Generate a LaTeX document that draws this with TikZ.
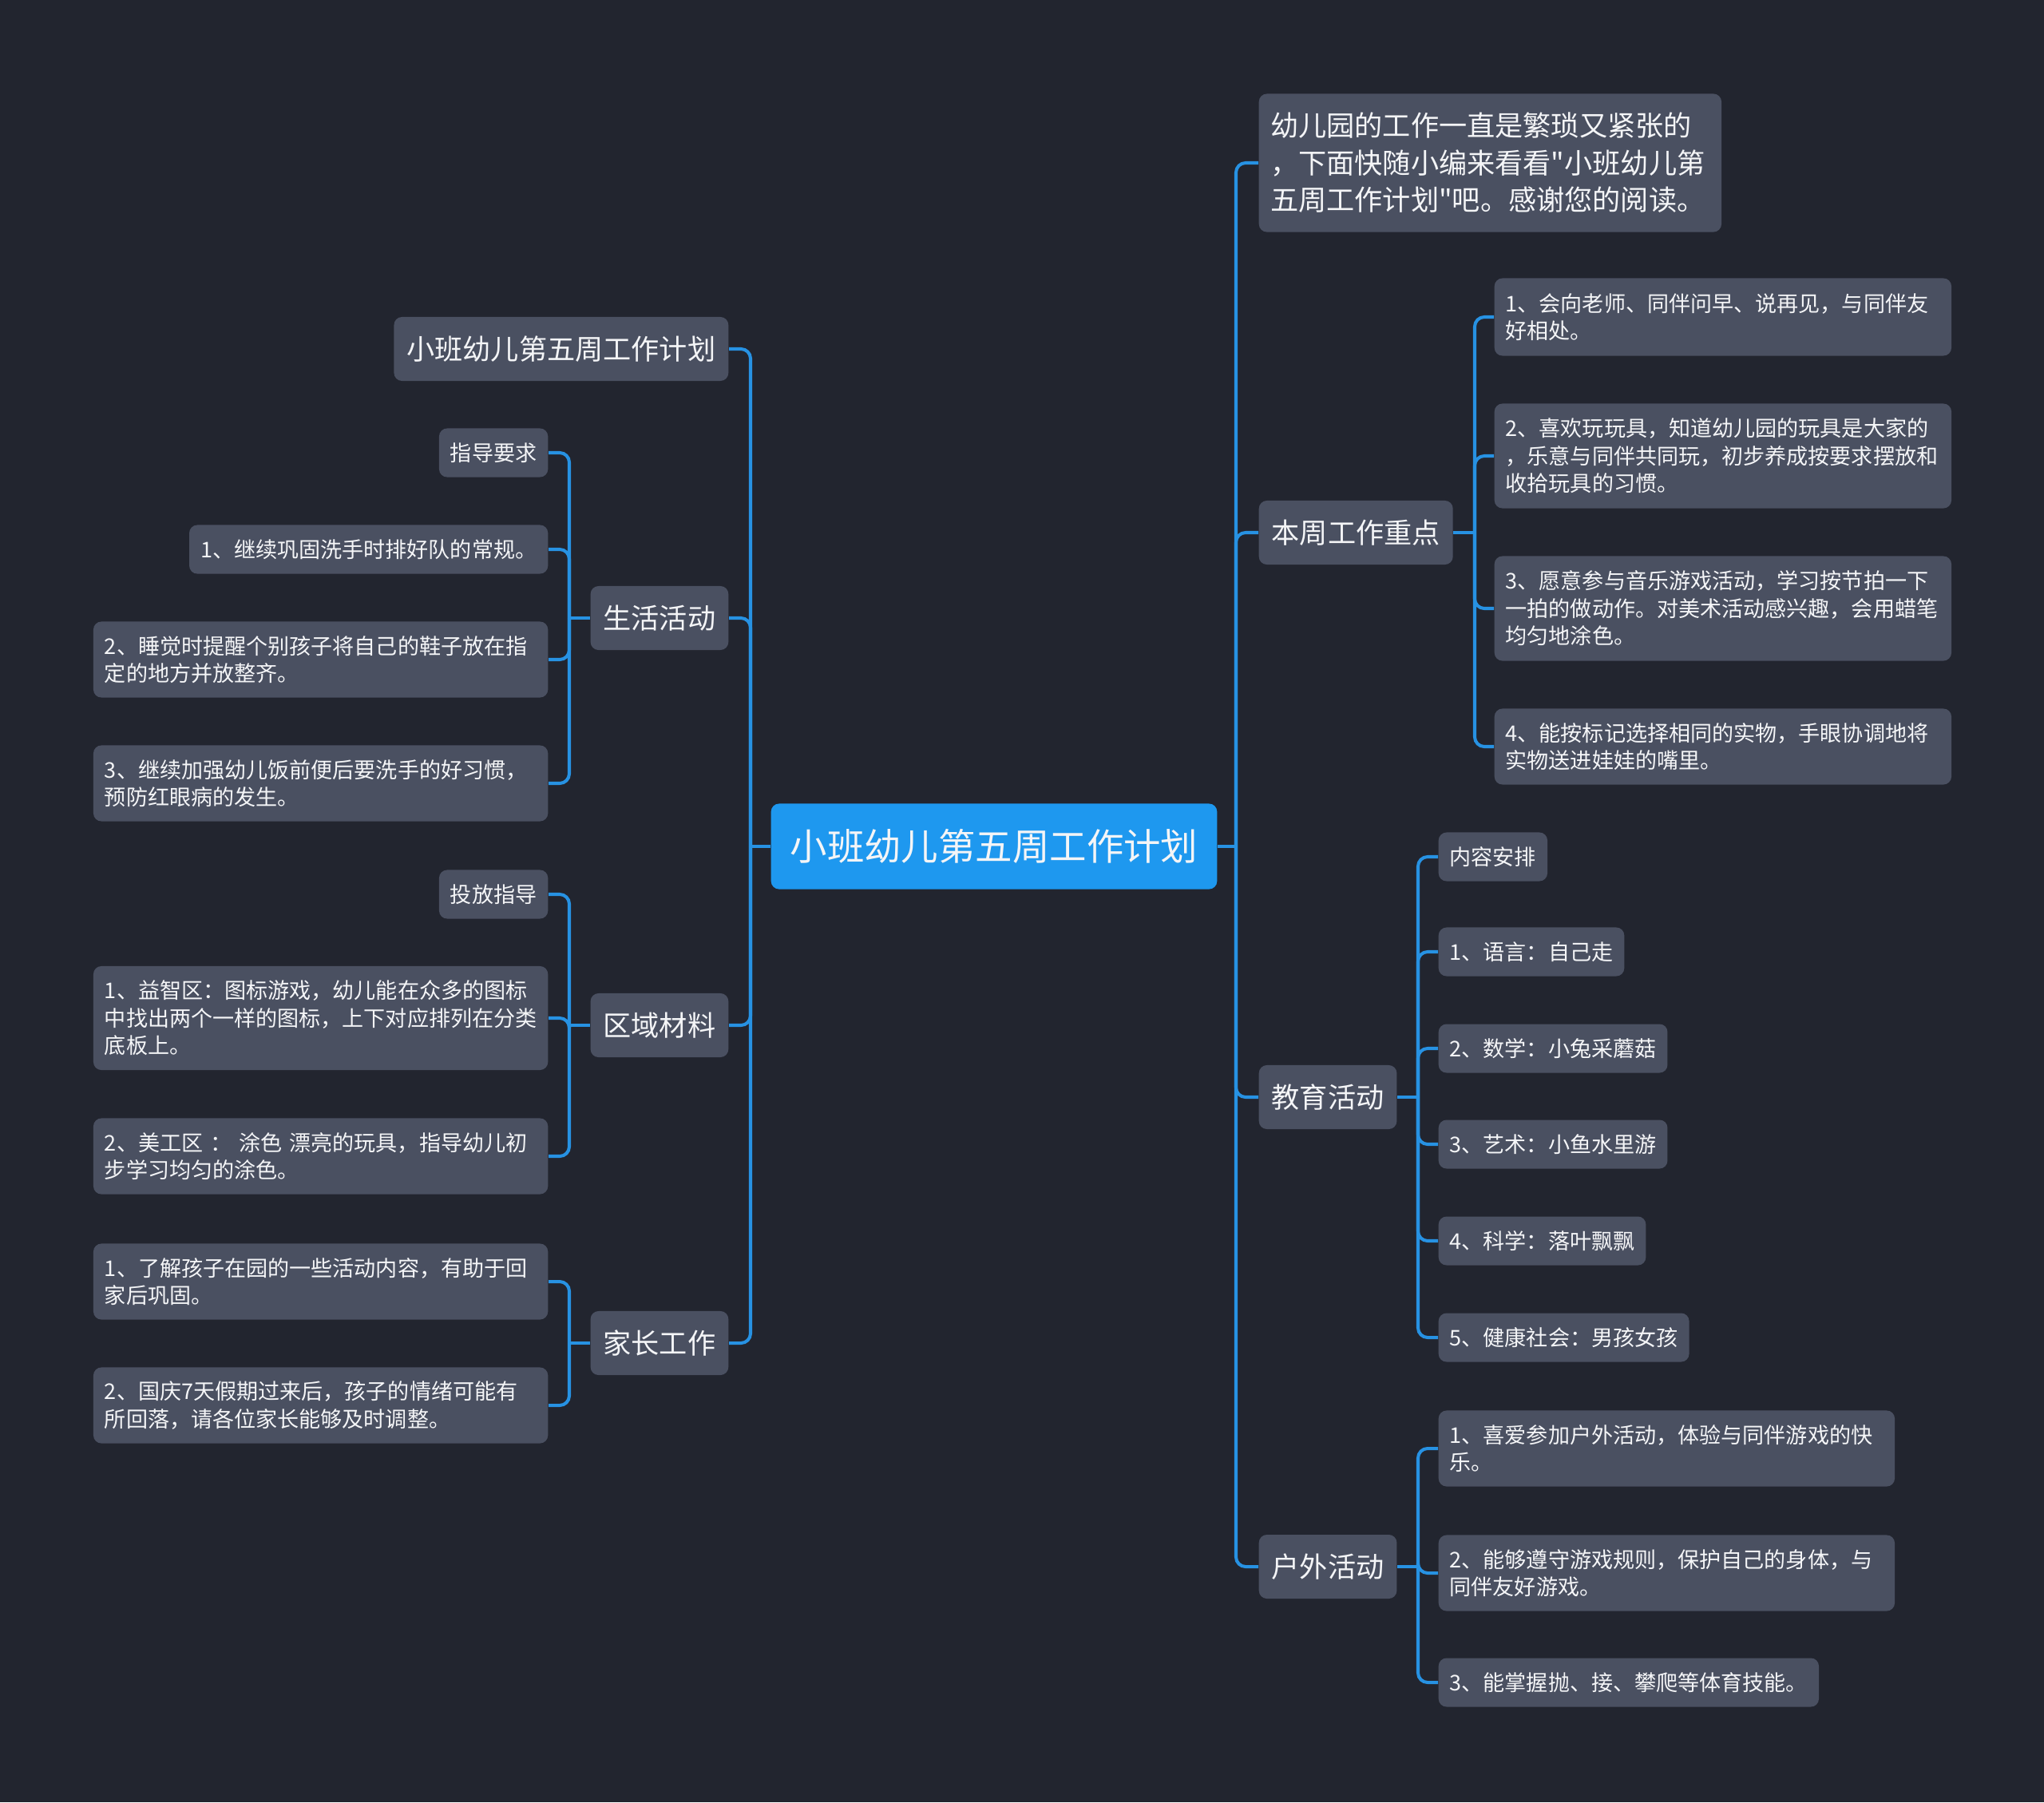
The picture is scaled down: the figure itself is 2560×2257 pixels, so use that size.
\documentclass[tikz,border=0pt]{standalone}
\usepackage{fontspec}
\setmainfont{Noto Sans CJK SC}[Ligatures=TeXOff]
\definecolor{bgc}{HTML}{22252F}
\definecolor{boxc}{HTML}{4A5061}
\definecolor{rootc}{HTML}{1E98EF}
\definecolor{linec}{HTML}{2792E3}
\definecolor{txtc}{HTML}{F4F5F7}
\tikzset{
  base/.style={rounded corners=0.1cm, fill=boxc, text=txtc, align=left},
  rootbox/.style={base, fill=rootc, font=\fontsize{13.2pt}{16pt}\selectfont, inner xsep=0.24cm, minimum height=1.07cm},
  lvone/.style={base, font=\fontsize{10pt}{13.2pt}\selectfont, inner xsep=0.16cm, minimum height=0.8cm},
  lvtwo/.style={base, font=\fontsize{7.7pt}{9.8pt}\selectfont, inner xsep=0.14cm, minimum height=0.61cm},
  conn/.style={draw=linec, line width=1.15pt, rounded corners=0.12cm},
}
\begin{document}
\begin{tikzpicture}[x=0.01cm,y=-0.01cm]
\fill[bgc] (0,0) rectangle (2560,2257);
\useasboundingbox (0,0) rectangle (2560,2257);

% root
\node[rootbox, anchor=center] (root) at (1245,1060) {小班幼儿第五周工作计划};
\coordinate (sL) at (940,1060);
\coordinate (sR) at (1548,1060);

% left level 1
\node[lvone, anchor=east] (l0) at (913,437) {小班幼儿第五周工作计划};
\node[lvone, anchor=east] (l1) at (913,774) {生活活动};
\node[lvone, anchor=east] (l2) at (913,1284) {区域材料};
\node[lvone, anchor=east] (l3) at (913,1682) {家长工作};

% right level 1
\node[lvone, anchor=west, text width=5.5cm, inner xsep=0.145cm, minimum height=1.73cm] (r0) at (1576,204) {幼儿园的工作一直是繁琐又紧张的\\，下面快随小编来看看"小班幼儿第\\五周工作计划"吧。感谢您的阅读。};
\node[lvone, anchor=west] (r1) at (1576,667) {本周工作重点};
\node[lvone, anchor=west] (r2) at (1576,1374) {教育活动};
\node[lvone, anchor=west] (r3) at (1576,1962) {户外活动};

% 生活活动 children
\coordinate (s1) at (713,774);
\node[lvtwo, anchor=east] (a1) at (687,567) {指导要求};
\node[lvtwo, anchor=east] (a2) at (687,688) {1、继续巩固洗手时排好队的常规。};
\node[lvtwo, anchor=east, text width=5.41cm, minimum height=0.95cm] (a3) at (687,826) {2、睡觉时提醒个别孩子将自己的鞋子放在指\\定的地方并放整齐。};
\node[lvtwo, anchor=east, text width=5.41cm, minimum height=0.95cm] (a4) at (687,981) {3、继续加强幼儿饭前便后要洗手的好习惯，\\预防红眼病的发生。};

% 区域材料 children
\coordinate (s2) at (713,1284);
\node[lvtwo, anchor=east] (b1) at (687,1120) {投放指导};
\node[lvtwo, anchor=east, text width=5.41cm, minimum height=1.3cm] (b2) at (687,1275) {1、益智区：图标游戏，幼儿能在众多的图标\\中找出两个一样的图标，上下对应排列在分类\\底板上。};
\node[lvtwo, anchor=east, text width=5.41cm, minimum height=0.95cm] (b3) at (687,1448) {2、美工区 ： 涂色 漂亮的玩具，指导幼儿初\\步学习均匀的涂色。};

% 家长工作 children
\coordinate (s3) at (713,1682);
\node[lvtwo, anchor=east, text width=5.41cm, minimum height=0.95cm] (c1) at (687,1605) {1、了解孩子在园的一些活动内容，有助于回\\家后巩固。};
\node[lvtwo, anchor=east, text width=5.41cm, minimum height=0.95cm] (c2) at (687,1760) {2、国庆7天假期过来后，孩子的情绪可能有\\所回落，请各位家长能够及时调整。};

% 本周工作重点 children
\coordinate (t1) at (1847,667);
\node[lvtwo, anchor=west, text width=5.44cm, minimum height=0.97cm] (d1) at (1871,397) {1、会向老师、同伴问早、说再见，与同伴友\\好相处。};
\node[lvtwo, anchor=west, text width=5.44cm, minimum height=1.31cm] (d2) at (1871,571) {2、喜欢玩玩具，知道幼儿园的玩具是大家的\\，乐意与同伴共同玩，初步养成按要求摆放和\\收拾玩具的习惯。};
\node[lvtwo, anchor=west, text width=5.44cm, minimum height=1.31cm] (d3) at (1871,762) {3、愿意参与音乐游戏活动，学习按节拍一下\\一拍的做动作。对美术活动感兴趣，会用蜡笔\\均匀地涂色。};
\node[lvtwo, anchor=west, text width=5.44cm, minimum height=0.95cm] (d4) at (1871,935) {4、能按标记选择相同的实物，手眼协调地将\\实物送进娃娃的嘴里。};

% 教育活动 children
\coordinate (t2) at (1776,1374);
\node[lvtwo, anchor=west] (e1) at (1801,1073) {内容安排};
\node[lvtwo, anchor=west] (e2) at (1801,1192) {1、语言：自己走};
\node[lvtwo, anchor=west] (e3) at (1801,1313) {2、数学：小兔采蘑菇};
\node[lvtwo, anchor=west] (e4) at (1801,1433) {3、艺术：小鱼水里游};
\node[lvtwo, anchor=west] (e5) at (1801,1554) {4、科学：落叶飘飘};
\node[lvtwo, anchor=west] (e6) at (1801,1675) {5、健康社会：男孩女孩};

% 户外活动 children
\coordinate (t3) at (1776,1962);
\node[lvtwo, anchor=west, text width=5.43cm, minimum height=0.95cm] (f1) at (1801,1814) {1、喜爱参加户外活动，体验与同伴游戏的快\\乐。};
\node[lvtwo, anchor=west, text width=5.43cm, minimum height=0.95cm] (f2) at (1801,1970) {2、能够遵守游戏规则，保护自己的身体，与\\同伴友好游戏。};
\node[lvtwo, anchor=west] (f3) at (1801,2107) {3、能掌握抛、接、攀爬等体育技能。};

% connectors: root
\draw[conn] (root.west) -- (sL);
\draw[conn] (root.east) -- (sR);
\foreach \n in {l0,l1,l2,l3} \draw[conn] (sL) |- (\n.east);
\foreach \n in {r0,r1,r2,r3} \draw[conn] (sR) |- (\n.west);

% left subtrees
\draw[conn] (l1.west) -- (s1);
\foreach \n in {a1,a2,a3,a4} \draw[conn] (s1) |- (\n.east);
\draw[conn] (l2.west) -- (s2);
\foreach \n in {b1,b2,b3} \draw[conn] (s2) |- (\n.east);
\draw[conn] (l3.west) -- (s3);
\foreach \n in {c1,c2} \draw[conn] (s3) |- (\n.east);

% right subtrees
\draw[conn] (r1.east) -- (t1);
\foreach \n in {d1,d2,d3,d4} \draw[conn] (t1) |- (\n.west);
\draw[conn] (r2.east) -- (t2);
\foreach \n in {e1,e2,e3,e4,e5,e6} \draw[conn] (t2) |- (\n.west);
\draw[conn] (r3.east) -- (t3);
\foreach \n in {f1,f2,f3} \draw[conn] (t3) |- (\n.west);
\end{tikzpicture}
\end{document}
